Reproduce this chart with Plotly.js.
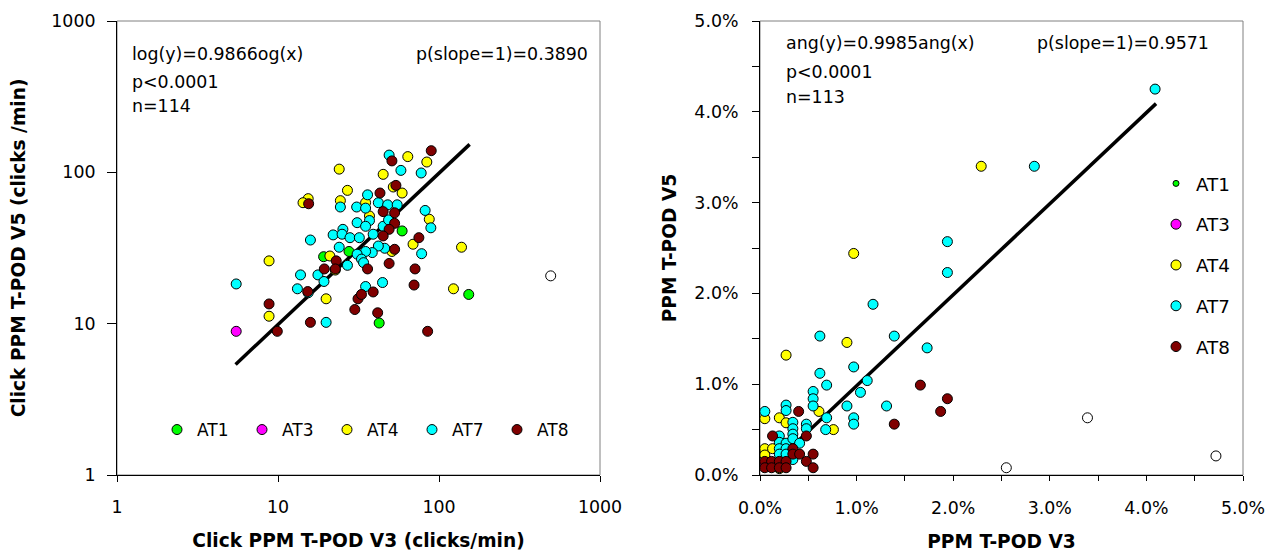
<!DOCTYPE html>
<html>
<head>
<meta charset="utf-8">
<script src="https://cdn.plot.ly/plotly-3.0.1.min.js"></script>
<style>
  html, body { margin: 0; padding: 0; background: #fff; }
  #chart { width: 1270px; height: 553px; }
</style>
</head>
<body>
<div id="chart"></div>
<script>
// ---- left panel: clicks/min, log-log (V3 on x, V5 on y) ----
const at1_x = [59, 27.6, 19.2, 153, 42.5];
const at1_y = [41, 30, 27.7, 15.6, 10.1];
const at3_x = [5.5];
const at3_y = [8.9];
const at4_x = [64, 84, 24, 45, 59, 27, 15.4, 14.3, 24.4, 87, 69, 138, 21, 8.8, 123, 19.9, 8.8, 35, 52, 51, 22.7, 37];
const at4_y = [127, 117, 105, 97, 73, 76, 67, 63, 65, 49, 33.5, 32, 28, 26, 17, 14.6, 11.2, 63, 80, 30, 22.6, 51.5];
const at7_x = [49, 58, 77.5, 36, 24.4, 30.8, 35, 42, 48, 55, 82, 89, 37, 31, 35, 39, 45, 48.6, 25.3, 22, 25, 28, 32, 15.9,
               46, 42, 38.5, 35, 24, 31, 33, 34, 78, 27, 13.8, 17.7, 19.3, 13.2, 15.4, 35, 44.6, 5.5, 19.9];
const at7_y = [130, 103, 99, 71, 59, 59, 58, 63, 61, 61, 56, 43, 48, 46.5, 44, 39, 44, 48.5, 42, 38.6, 39, 37, 37, 35.7,
               31.5, 32.6, 29.5, 30, 32, 28.8, 26.7, 25.3, 29, 24.3, 21, 21, 19, 17, 16, 17.6, 18.7, 18.3, 10.2];
const at8_x = [89.5, 51, 54, 43, 15.5, 45, 53, 53, 49, 45, 53, 49, 75, 71, 70, 36, 23, 19.4, 22.7, 15.3, 30, 31.4, 33, 39,
               41.6, 85, 9.9, 15.9, 8.8];
const at8_y = [139, 119, 82, 73, 62, 55, 54, 46, 42, 38, 31, 25, 37, 23, 18, 23, 26, 23, 23, 16.3, 12.4, 14.6, 15.6, 16.2,
               11.8, 8.9, 8.9, 10.2, 13.5];
const other_x = [494];
const other_y = [20.7];
const fit_x = [5.45, 155];
const fit_y = [5.38, 153];
const logTicks = [1, 10, 100, 1000];
const logTickText = ['1', '10', '100', '1000'];

// ---- right panel: PPM (%), linear ----
const r_at1_x = [0.12];
const r_at1_y = [0.12];
const r_at3_x = [0.05];
const r_at3_y = [0.12];
const r_at4_x = [2.29, 0.97, 0.90, 0.27, 0.76, 0.61, 0.20, 0.27, 0.05, 0.05, 0.13, 0.20, 0.05];
const r_at4_y = [3.40, 2.44, 1.46, 1.32, 0.50, 0.70, 0.63, 0.575, 0.62, 0.29, 0.29, 0.07, 0.22];
const r_at7_x = [4.09, 2.84, 1.94, 1.94, 1.17, 0.62, 1.39, 1.73, 0.62, 0.97, 0.69, 1.11, 1.04, 0.55, 0.55, 0.55, 0.90, 1.31,
                 0.97, 0.97, 0.69, 0.68, 0.27, 0.27, 0.05, 0.34, 0.34, 0.48, 0.48, 0.20, 0.20, 0.27, 0.34, 0.34, 0.41, 0.20,
                 0.27, 0.20, 0.27, 0.34];
const r_at7_y = [4.25, 3.40, 2.57, 2.23, 1.88, 1.53, 1.53, 1.40, 1.12, 1.19, 0.99, 1.04, 0.91, 0.92, 0.84, 0.76, 0.76, 0.76,
                 0.63, 0.56, 0.63, 0.50, 0.77, 0.71, 0.70, 0.58, 0.51, 0.56, 0.51, 0.43, 0.36, 0.35, 0.45, 0.40, 0.35, 0.29,
                 0.29, 0.23, 0.23, 0.17];
const r_at8_x = [1.66, 1.94, 1.87, 1.39, 0.40, 0.13, 0.48, 0.34, 0.34, 0.41, 0.55, 0.05, 0.12, 0.20, 0.27, 0.48, 0.05, 0.12,
                 0.20, 0.27, 0.55];
const r_at8_y = [0.99, 0.84, 0.70, 0.56, 0.70, 0.43, 0.43, 0.29, 0.23, 0.23, 0.23, 0.15, 0.15, 0.15, 0.15, 0.15, 0.08, 0.08,
                 0.08, 0.08, 0.08];
const r_other_x = [2.55, 3.39, 4.72];
const r_other_y = [0.08, 0.63, 0.21];
const r_fit_x = [0.35, 4.1];
const r_fit_y = [0.33, 4.09];

const colors = { AT1: '#00ff00', AT3: '#ff00ff', AT4: '#ffff00', AT7: '#00ffff', AT8: '#800000' };
const FONT = 'DejaVu Sans, Arial, sans-serif';

// page geometry (px) used to place the two panels
const W = 1270, H = 553;
const M = { l: 117, r: 27, t: 21, b: 78 };
const innerW = W - M.l - M.r;
function fx(px) { return (px - M.l) / innerW; }

function pts(x, y, name, xa, ya, legend, size) {
  return {
    x: x, y: y, name: name, type: 'scatter', mode: 'markers',
    xaxis: xa, yaxis: ya, legend: legend, legendgroup: legend + name,
    marker: { color: colors[name] || '#ffffff', size: size || 10, line: { color: '#000', width: 1 } },
    hoverinfo: 'x+y+name'
  };
}

const data = [
  { x: fit_x, y: fit_y, mode: 'lines', line: { color: '#000', width: 3.5 }, showlegend: false, xaxis: 'x', yaxis: 'y' },
  pts(at1_x, at1_y, 'AT1', 'x', 'y', 'legend'),
  pts(at3_x, at3_y, 'AT3', 'x', 'y', 'legend'),
  pts(at4_x, at4_y, 'AT4', 'x', 'y', 'legend'),
  pts(at7_x, at7_y, 'AT7', 'x', 'y', 'legend'),
  pts(at8_x, at8_y, 'AT8', 'x', 'y', 'legend'),
  Object.assign(pts(other_x, other_y, 'other', 'x', 'y', 'legend'), { showlegend: false }),

  { x: r_fit_x, y: r_fit_y, mode: 'lines', line: { color: '#000', width: 3.5 }, showlegend: false, xaxis: 'x2', yaxis: 'y2' },
  pts(r_at1_x, r_at1_y, 'AT1', 'x2', 'y2', 'legend2', 6),
  pts(r_at3_x, r_at3_y, 'AT3', 'x2', 'y2', 'legend2'),
  pts(r_at4_x, r_at4_y, 'AT4', 'x2', 'y2', 'legend2'),
  pts(r_at7_x, r_at7_y, 'AT7', 'x2', 'y2', 'legend2'),
  pts(r_at8_x, r_at8_y, 'AT8', 'x2', 'y2', 'legend2'),
  Object.assign(pts(r_other_x, r_other_y, 'other', 'x2', 'y2', 'legend2'), { showlegend: false })
];

const tickFont = { family: FONT, size: 17.4, color: '#000' };
const titleFont = { family: FONT, size: 18.6, color: '#000', weight: 'bold' };
const txt = { family: FONT, size: 17.4, color: '#000' };

function ann(text, xref, yref, x, y, anchor) {
  return { text: text, xref: xref, yref: yref, x: x, y: y, xanchor: anchor, yanchor: 'middle',
           showarrow: false, font: txt };
}

const layout = {
  width: W, height: H,
  margin: M,
  paper_bgcolor: '#fff', plot_bgcolor: '#fff',
  font: { family: FONT, color: '#000' },
  xaxis: {
    domain: [0, fx(600)], type: 'log', range: [0, 3],
    tickvals: logTicks, ticktext: logTickText,
    ticks: 'outside', ticklen: 6, tickcolor: '#000', ticklabelstandoff: 10,
    showline: true, linecolor: '#000', linewidth: 1, showgrid: false, zeroline: false,
    tickfont: tickFont,
    title: { text: 'Click PPM T-POD V3 (clicks/min)', font: titleFont, standoff: 18 }
  },
  yaxis: {
    domain: [0, 1], type: 'log', range: [0, 3],
    tickvals: logTicks, ticktext: logTickText,
    ticks: 'outside', ticklen: 9, tickcolor: '#000', ticklabelstandoff: 8,
    showline: true, linecolor: '#000', linewidth: 1, showgrid: false, zeroline: false,
    tickfont: tickFont,
    title: { text: 'Click PPM T-POD V5 (clicks /min)', font: titleFont, standoff: 20 }
  },
  xaxis2: {
    domain: [fx(760), 1], anchor: 'y2', range: [0, 5], dtick: 1,
    tickformat: '.1f', ticksuffix: '%',
    ticks: 'outside', ticklen: 5, tickcolor: '#000', ticklabelstandoff: 12,
    minor: { dtick: 0.5, ticks: 'outside', ticklen: 5, tickcolor: '#000', showgrid: false },
    showline: true, linecolor: '#000', linewidth: 1, showgrid: false, zeroline: false,
    tickfont: tickFont,
    title: { text: 'PPM T-POD V3', font: titleFont, standoff: 18 }
  },
  yaxis2: {
    domain: [0, 1], anchor: 'x2', range: [0, 5], dtick: 1,
    tickformat: '.1f', ticksuffix: '%',
    ticks: 'outside', ticklen: 7, tickcolor: '#000', ticklabelstandoff: 10,
    minor: { dtick: 0.5, ticks: 'outside', ticklen: 7, tickcolor: '#000', showgrid: false },
    showline: true, linecolor: '#000', linewidth: 1, showgrid: false, zeroline: false,
    tickfont: tickFont,
    title: { text: 'PPM T-POD V5', font: titleFont, standoff: 12 }
  },
  legend: {
    orientation: 'h', x: fx(157), y: (H - M.b - 430) / (H - M.t - M.b),
    xanchor: 'left', yanchor: 'middle',
    entrywidth: 40, entrywidthmode: 'pixels',
    bgcolor: 'rgba(0,0,0,0)', borderwidth: 0,
    font: { family: FONT, size: 17, color: '#000' }
  },
  legend2: {
    orientation: 'v', x: fx(1156), y: (H - M.b - 165) / (H - M.t - M.b),
    xanchor: 'left', yanchor: 'top',
    tracegroupgap: 14,
    bgcolor: 'rgba(0,0,0,0)', borderwidth: 0,
    font: { family: FONT, size: 18.3, color: '#000' }
  },
  shapes: [
    { type: 'rect', xref: 'x domain', yref: 'y domain', x0: 0, x1: 1, y0: 0, y1: 1,
      line: { color: '#808080', width: 1 }, layer: 'below' },
    { type: 'rect', xref: 'x2 domain', yref: 'y2 domain', x0: 0, x1: 1, y0: 0, y1: 1,
      line: { color: '#808080', width: 1 }, layer: 'below' }
  ],
  annotations: [
    ann('log(y)=0.9866og(x)', 'x domain', 'y domain', (130 - 117) / 483, (475 - 54) / 454, 'left'),
    ann('p<0.0001', 'x domain', 'y domain', (130 - 117) / 483, (475 - 81.7) / 454, 'left'),
    ann('n=114', 'x domain', 'y domain', (130 - 117) / 483, (475 - 106) / 454, 'left'),
    ann('p(slope=1)=0.3890', 'x domain', 'y domain', (590 - 117) / 483, (475 - 54) / 454, 'right'),
    ann('ang(y)=0.9985ang(x)', 'x2 domain', 'y2 domain', (784 - 760) / 483, (475 - 43.3) / 454, 'left'),
    ann('p<0.0001', 'x2 domain', 'y2 domain', (784 - 760) / 483, (475 - 71.7) / 454, 'left'),
    ann('n=113', 'x2 domain', 'y2 domain', (784 - 760) / 483, (475 - 96.7) / 454, 'left'),
    ann('p(slope=1)=0.9571', 'x2 domain', 'y2 domain', (1210.5 - 760) / 483, (475 - 43.3) / 454, 'right')
  ],
  showlegend: true
};

Plotly.newPlot('chart', data, layout, { displayModeBar: false, staticPlot: true });
</script>
</body>
</html>
